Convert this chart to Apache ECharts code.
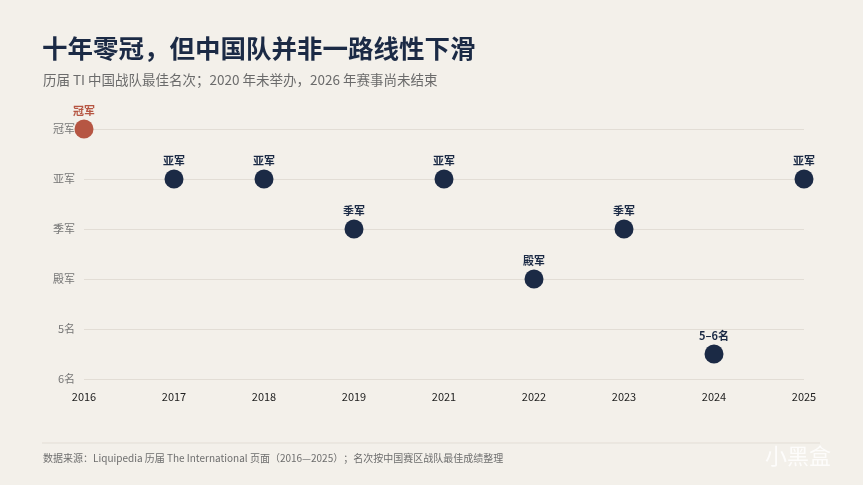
<!DOCTYPE html>
<html>
<head>
<meta charset="utf-8">
<script src="https://cdn.jsdelivr.net/npm/echarts@6/dist/echarts.min.js"></script>
<style>
  html, body { margin: 0; padding: 0; background: #f3f0ea; }
  #chart { width: 863px; height: 485px; }
</style>
</head>
<body>
<div id="chart"></div>
<script>
// 年份（2020 年未举办，直接跳过）
const years = ['2016', '2017', '2018', '2019', '2021', '2022', '2023', '2024', '2025'];
// 名次数值：1 冠军 … 6 第六名，5.5 表示 5–6 名
const ranks = [1, 2, 2, 3, 2, 4, 3, 5.5, 2];
const rankLabels = ['冠军', '亚军', '亚军', '季军', '亚军', '殿军', '季军', '5–6名', '亚军'];
// y 轴刻度文字
const yTickLabels = { 1: '冠军', 2: '亚军', 3: '季军', 4: '殿军', 5: '5名', 6: '6名' };

const FONT = '"Noto Sans CJK SC", "Noto Sans", sans-serif';
const NAVY = '#1b2a45';
const RED = '#b65643';

let chart = echarts.init(document.getElementById('chart'));
let option = {
  backgroundColor: '#f3f0ea',
  textStyle: { fontFamily: FONT },
  title: [
    {
      text: '十年零冠，但中国队并非一路线性下滑',
      left: 37,
      top: 31,
      textStyle: { color: NAVY, fontSize: 25.5, fontWeight: 'bold', fontFamily: FONT }
    },
    {
      text: '历届 TI 中国战队最佳名次；2020 年未举办，2026 年赛事尚未结束',
      left: 38,
      top: 68,
      textStyle: { color: '#6b6b6b', fontSize: 13.5, fontWeight: 'normal', fontFamily: FONT }
    }
  ],
  grid: {
    left: 84,
    right: 59,
    top: 129,
    bottom: 106
  },
  xAxis: {
    type: 'category',
    data: years,
    boundaryGap: false,
    axisTick: { show: false },
    axisLine: { show: false },
    axisLabel: {
      color: '#222',
      fontSize: 11,
      margin: 12
    },
    splitLine: { show: false }
  },
  yAxis: {
    type: 'value',
    inverse: true,
    min: 1,
    max: 6,
    interval: 1,
    axisLine: { show: false },
    axisTick: { show: false },
    axisLabel: {
      color: '#757575',
      fontSize: 11,
      margin: 9,
      formatter: (v) => yTickLabels[v] || ''
    },
    // 分隔线
    splitLine: {
      lineStyle: { color: '#e2ddd5', width: 1 }
    }
  },
  series: [
    {
      type: 'scatter',
      symbolSize: 19,
      data: ranks.map((v, i) => ({
        value: [years[i], v],
        itemStyle: { color: v === 1 ? RED : NAVY, opacity: 1 },
        label: { color: v === 1 ? RED : NAVY }
      })),
      label: {
        show: true,
        position: 'top',
        distance: 3,
        fontSize: 11,
        fontWeight: 'bold',
        formatter: (p) => rankLabels[p.dataIndex]
      },
      z: 5
    }
  ],
  graphic: [
    // 底部分隔线
    {
      type: 'line',
      shape: { x1: 42, y1: 443, x2: 820, y2: 443 },
      style: { stroke: '#e2ddd5', lineWidth: 1 }
    },
    {
      type: 'text',
      left: 43,
      top: 453,
      style: {
        text: '数据来源：Liquipedia 历届 The International 页面（2016—2025）；名次按中国赛区战队最佳成绩整理',
        fill: '#6e6e6e',
        fontSize: 10,
        fontFamily: FONT
      }
    },
    // 水印
    {
      type: 'text',
      left: 765,
      top: 445,
      style: {
        text: '小黑盒',
        fill: 'rgba(255,255,255,0.8)',
        fontSize: 22,
        fontFamily: FONT
      }
    }
  ]
};
chart.setOption(option);
</script>
</body>
</html>
